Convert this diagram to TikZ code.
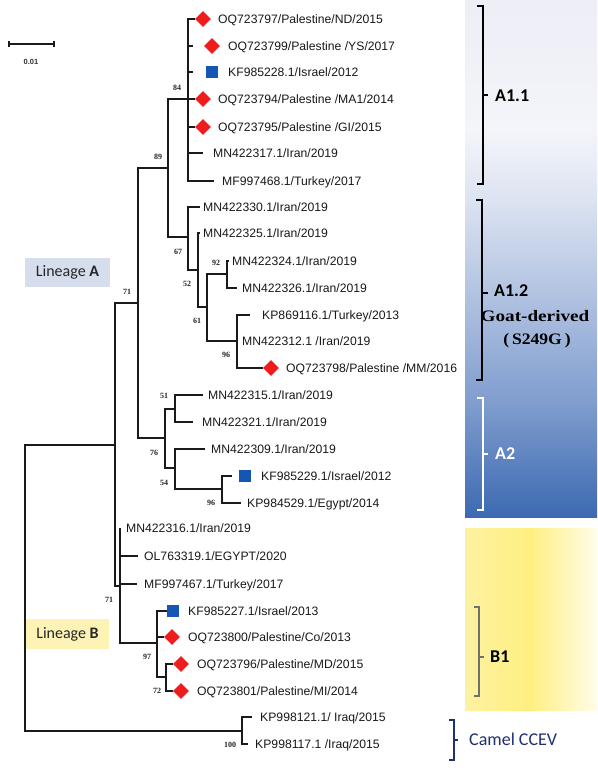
\documentclass[tikz,border=0pt]{standalone}
\usepackage{fontspec}
\usepackage{graphicx}
\setmainfont{Liberation Sans}
\newfontfamily\serifbs{Liberation Serif}
\newfontfamily\cali{Carlito}
\usetikzlibrary{shapes.geometric}
\definecolor{tree}{HTML}{1A1A1A}
\definecolor{mred}{HTML}{EE1C1C}
\definecolor{mblue}{HTML}{1456B4}
\definecolor{pb0}{HTML}{EDEEF6}
\definecolor{pb1}{HTML}{F4F5FA}
\definecolor{pb2}{HTML}{DCE3F1}
\definecolor{pb3}{HTML}{AFC1E0}
\definecolor{pb4}{HTML}{819ECF}
\definecolor{pb5}{HTML}{3C6AB1}
\definecolor{py0}{HTML}{FCF2A2}
\definecolor{py1}{HTML}{FFEF80}
\definecolor{py2}{HTML}{FFFCE8}
\definecolor{boxA}{HTML}{D6DEED}
\definecolor{boxB}{HTML}{FDF3B5}
\definecolor{navy}{HTML}{1F3070}
\definecolor{bgray}{HTML}{707070}
\pgfdeclareverticalshading{bluepanel}{100bp}{color(0bp)=(pb5); color(25bp)=(pb5); color(36.32bp)=(pb4); color(45.99bp)=(pb3); color(55.66bp)=(pb2); color(62.43bp)=(pb1); color(75bp)=(pb0); color(100bp)=(pb0)}
\pgfdeclarehorizontalshading{yellowpanel}{100bp}{color(0bp)=(py0); color(25bp)=(py0); color(49.6bp)=(py1); color(75bp)=(py2); color(100bp)=(py2)}
\newcommand{\lf}[5]{\coordinate (#1t) at (#2,#4); \node[lbl] (#1) at (#3,#4) {#5};}
\begin{document}
\begin{tikzpicture}[x=1pt,y=-1pt,
  br/.style={draw=tree, line width=1.1pt},
  lbl/.style={anchor=west, inner sep=0pt, font=\fontsize{12.2}{14}\selectfont, text height=8.7pt, text depth=0pt, text=black!90},
  dia/.style={diamond, fill=mred, inner sep=0pt, minimum width=16pt, minimum height=16pt},
  sqm/.style={rectangle, fill=mblue, inner sep=0pt, minimum size=12.5pt},
  bs/.style={inner sep=0pt, font=\serifbs\bfseries\fontsize{8}{9}\selectfont, text height=5.4pt, text depth=0pt, text=black!85},
  brl/.style={anchor=west, inner sep=0pt, font=\cali\bfseries\fontsize{18}{20}\selectfont, text height=11.6pt, text depth=0pt},
  linbox/.style={inner sep=0pt, font=\cali\fontsize{16}{18}\selectfont, text=black!85}
]
\useasboundingbox (0,0) rectangle (597,768);
\fill[white] (0,0) rectangle (597,768);
% background panels
\shade[shading=bluepanel] (465,0) rectangle (597,517);
\shade[shading=yellowpanel] (465,528) rectangle (597,710);
% lineage boxes
\node[linbox, fill=boxA, minimum width=85pt, minimum height=29pt] (linA) at (67.5,272.5) {Lineage \textbf{A}};
\node[linbox, fill=boxB, minimum width=83pt, minimum height=30pt] (linB) at (67.5,634) {Lineage \textbf{B}};
% scale bar
\coordinate (sb1) at (9,44); \coordinate (sb2) at (54,44);
\draw[br] (sb1) -- (sb2);
\draw[br] ([yshift=-3pt]sb1) -- ([yshift=3pt]sb1);
\draw[br] ([yshift=-3pt]sb2) -- ([yshift=3pt]sb2);
\node[inner sep=0pt, font=\bfseries\fontsize{7.5}{9}\selectfont, text=black!80] (sblab) at (31,62) {0.01};
% internal nodes
\coordinate (root) at (25,588);
\coordinate (nAB) at (115,445);
\coordinate (nA) at (138,303);
\coordinate (n89) at (168,168);
\coordinate (n84) at (188,99);
\coordinate (n67) at (188,237);
\coordinate (n52) at (198,270);
\coordinate (n61) at (207,307);
\coordinate (n92) at (227,274);
\coordinate (n96a) at (237,341);
\coordinate (n76) at (165,438);
\coordinate (n51) at (175,409);
\coordinate (n54) at (175,468);
\coordinate (n96b) at (222,489);
\coordinate (nB) at (120,586);
\coordinate (n97) at (157,643);
\coordinate (n72) at (166,677);
\coordinate (ncam) at (242,731);
% markers
\node[dia] (L1m) at (203,19) {};
\node[dia] (L2m) at (212,46) {};
\node[sqm] (L3m) at (212,72) {};
\node[dia] (L4m) at (203,99) {};
\node[dia] (L5m) at (203,127) {};
\node[dia] (L14m) at (271,368) {};
\node[sqm] (L18m) at (245,476) {};
\node[sqm] (L23m) at (173,611) {};
\node[dia] (L24m) at (172,637) {};
\node[dia] (L25m) at (181,664) {};
\node[dia] (L26m) at (181,691) {};
% leaves
\lf{L1}{195}{218}{19}{OQ723797/Palestine/ND/2015}
\lf{L2}{193}{228}{46}{OQ723799/Palestine /YS/2017}
\lf{L3}{193}{228}{72}{KF985228.1/Israel/2012}
\lf{L4}{195}{218}{99}{OQ723794/Palestine /MA1/2014}
\lf{L5}{195}{218}{127}{OQ723795/Palestine /GI/2015}
\lf{L6}{203}{213}{153}{MN422317.1/Iran/2019}
\lf{L7}{214}{222}{181}{MF997468.1/Turkey/2017}
\lf{L8}{200}{203}{207}{MN422330.1/Iran/2019}
\lf{L9}{200}{203}{233}{MN422325.1/Iran/2019}
\lf{L10}{229}{232}{261}{MN422324.1/Iran/2019}
\lf{L11}{237}{242}{288}{MN422326.1/Iran/2019}
\lf{L12}{250}{262}{315}{KP869116.1/Turkey/2013}
\lf{L13}{238}{242}{341}{MN422312.1 /Iran/2019}
\lf{L14}{263}{286}{368}{OQ723798/Palestine /MM/2016}
\lf{L15}{203}{208}{395}{MN422315.1/Iran/2019}
\lf{L16}{193}{202}{422}{MN422321.1/Iran/2019}
\lf{L17}{205}{211}{449}{MN422309.1/Iran/2019}
\lf{L18}{232}{261}{476}{KF985229.1/Israel/2012}
\lf{L19}{241}{247}{503}{KP984529.1/Egypt/2014}
\lf{L20}{120}{126}{528}{MN422316.1/Iran/2019}
\lf{L21}{138}{144}{556}{OL763319.1/EGYPT/2020}
\lf{L22}{137}{144}{584}{MF997467.1/Turkey/2017}
\lf{L23}{165}{188}{611}{KF985227.1/Israel/2013}
\lf{L24}{164}{188}{637}{OQ723800/Palestine/Co/2013}
\lf{L25}{173}{197}{664}{OQ723796/Palestine/MD/2015}
\lf{L26}{173}{197}{691}{OQ723801/Palestine/MI/2014}
\lf{L27}{252}{260}{717}{KP998121.1/ Iraq/2015}
\lf{L28}{248}{255}{744}{KP998117.1 /Iraq/2015}
% branches
\draw[br] (root) |- (nAB); \draw[br] (root) |- (ncam);
\draw[br] (nAB) |- (nA); \draw[br] (nAB) |- (nB);
\draw[br] (nA) |- (n89); \draw[br] (nA) |- (n76);
\draw[br] (n89) |- (n84); \draw[br] (n89) |- (n67);
\draw[br] (n84) |- (L1m.west); \draw[br] (n84) |- (L2t); \draw[br] (n84) |- (L3t);
\draw[br] (n84) |- (L4m.west); \draw[br] (n84) |- (L5m.west);
\draw[br] (n84) |- (L6t); \draw[br] (n84) |- (L7t);
\draw[br] (n67) |- (L8t); \draw[br] (n67) |- (n52);
\draw[br] (n52) |- (L9t); \draw[br] (n52) |- (n61);
\draw[br] (n61) |- (n92); \draw[br] (n61) |- (n96a);
\draw[br] (n92) |- (L10t); \draw[br] (n92) |- (L11t);
\draw[br] (n96a) |- (L12t); \draw[br] (n96a) |- (L13t); \draw[br] (n96a) |- (L14m.west);
\draw[br] (n76) |- (n51); \draw[br] (n76) |- (n54);
\draw[br] (n51) |- (L15t); \draw[br] (n51) |- (L16t);
\draw[br] (n54) |- (L17t); \draw[br] (n54) |- (n96b);
\draw[br] (n96b) |- (L18t); \draw[br] (n96b) |- (L19t);
\draw[br] (nB) |- (L20t); \draw[br] (nB) |- (L21t); \draw[br] (nB) |- (L22t); \draw[br] (nB) |- (n97);
\draw[br] (n97) |- (L23m.west); \draw[br] (n97) |- (L24m.west); \draw[br] (n97) |- (n72);
\draw[br] (n72) |- (L25m.west); \draw[br] (n72) |- (L26m.west);
\draw[br] (ncam) |- (L27t); \draw[br] (ncam) |- (L28t);
% bootstrap values
\node[bs] (b84) at (177,88) {84};
\node[bs] (b89) at (158,157) {89};
\node[bs] (b67) at (178,252) {67};
\node[bs] (b92) at (216,263) {92};
\node[bs] (b52) at (187,284) {52};
\node[bs] (b61) at (197,321) {61};
\node[bs] (b96a) at (226,355) {96};
\node[bs] (b71a) at (127,292) {71};
\node[bs] (b51) at (164,396) {51};
\node[bs] (b76) at (154,453) {76};
\node[bs] (b54) at (164,483) {54};
\node[bs] (b96b) at (211,503) {96};
\node[bs] (b71b) at (109,600) {71};
\node[bs] (b97) at (147,657) {97};
\node[bs] (b72) at (157,691) {72};
\node[bs] (b100) at (230,745) {100};
% clade brackets
\draw[line width=1.5pt, black] (477,6) -- (483,6) -- (483,184) -- (477,184);
\draw[line width=1.5pt, black] (483,95) -- (488,95);
\node[brl] (cA11) at (495,96) {A1.1};
\draw[line width=2.5pt, black] (476,200) -- (482,200) -- (482,380) -- (476,380);
\draw[line width=2pt, black] (482,293) -- (488,293);
\node[brl] (cA12) at (494,291) {A1.2};
\node[inner sep=0pt, font=\serifbs\bfseries\fontsize{16}{18}\selectfont] (goat) at (535,316) {\scalebox{1.2}[1]{Goat-derived}};
\node[inner sep=0pt, font=\serifbs\bfseries\fontsize{16}{18}\selectfont] (mut) at (537,341) {\scalebox{1.1}[1]{(\,S249G\,)}};
\draw[line width=2pt, white] (477,398) -- (483,398) -- (483,510) -- (477,510);
\draw[line width=2pt, white] (483,454) -- (488,454);
\node[brl, text=white] (cA2) at (495,454) {A2};
\draw[line width=1.5pt, bgray] (474,607) -- (479,607) -- (479,696) -- (474,696);
\draw[line width=1.5pt, bgray] (479,657) -- (484,657);
\node[brl] (cB1) at (490,657) {B1};
\draw[line width=1.5pt, navy] (449,720) -- (454,720) -- (454,760) -- (449,760);
\draw[line width=1.5pt, navy] (454,740) -- (458,740);
\node[anchor=west, inner sep=0pt, font=\cali\fontsize{18}{20}\selectfont, text=navy, text height=11.6pt, text depth=0pt] (camel) at (469,740) {Camel CCEV};
\end{tikzpicture}
\end{document}
